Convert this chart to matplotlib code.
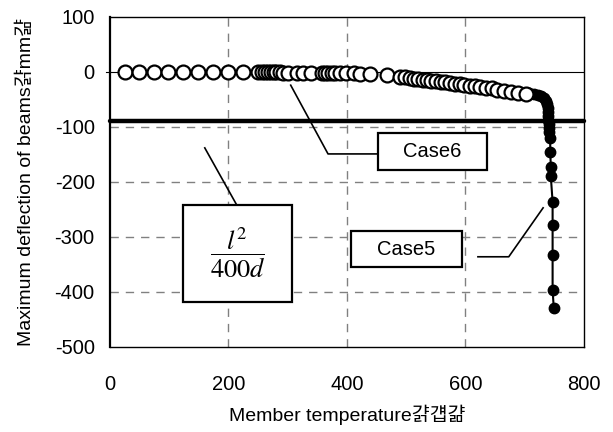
"""Maximum deflection of beams vs member temperature (Case5 / Case6)."""

import matplotlib

matplotlib.use("Agg")
import matplotlib.pyplot as plt

plt.rcParams["font.family"] = ["Liberation Sans", "Noto Sans CJK KR", "DejaVu Sans"]
plt.rcParams["mathtext.fontset"] = "stix"
plt.rcParams["axes.unicode_minus"] = False

# garbled full-width brackets / degree sign, as they appear in the original
LP = b"\x81\x69".decode("cp949")
RP = b"\x81\x6a".decode("cp949")
DEG = b"\x81\x8e".decode("cp949")

# Case6 (open circles)
case6_temp = [25, 49, 74, 98, 123, 149, 174, 199, 224, 250, 256, 262, 267, 271, 276,
              281, 287, 292, 301, 315, 326, 340, 357, 363, 368, 374, 380, 388, 399,
              411, 422, 439, 467, 490, 498, 506, 513, 520, 528, 535, 542, 550, 558,
              566, 574, 582, 590, 598, 607, 616, 625, 634, 644, 654, 665, 677, 689, 702]
case6_defl = [0, 0, 0, 0, 0, 0, 0, 0, 0, 0, 0, 0, 0, 0, 0,
              0, 0, -1, -1, -1, -1, -1, -1, -1, -1, -2, -2, -2, -2,
              -2, -3, -3, -6, -9, -10, -11, -12, -13, -14, -15, -16, -17, -18,
              -19, -20, -21, -22, -23, -25, -26, -27, -29, -30, -32, -34, -36, -38, -40]

# Case5 (filled circles)
case5_temp = [700, 708, 715, 722, 728, 733, 736, 738, 739, 740, 740, 740, 741, 741,
              741, 743, 743, 744, 744, 747, 747, 747, 747, 749]
case5_defl = [-38, -39, -40, -42, -44, -47, -52, -58, -65, -72, -80, -88, -95, -102,
              -109, -120, -145, -172, -190, -236, -279, -333, -396, -430]

limit_defl = -89  # l^2 / 400d

x_ticks = [0, 200, 400, 600, 800]
y_ticks = [100, 0, -100, -200, -300, -400, -500]

fig = plt.figure(figsize=(6.13, 4.32), dpi=100)
ax = fig.add_axes([0.1794, 0.1968, 0.7733, 0.7639])

ax.set_xlim(0, 800)
ax.set_ylim(-500, 100)
ax.set_xticks(x_ticks)
ax.set_yticks(y_ticks)
ax.tick_params(length=0, labelsize=14.5)
ax.tick_params(axis="x", pad=20)
ax.tick_params(axis="y", pad=11)

for v in [200, 400, 600]:
    ax.axvline(v, color="#808080", lw=1, ls=(0, (6, 5)), zorder=1)
for v in [-100, -200, -300, -400]:
    ax.axhline(v, color="#808080", lw=1, ls=(0, (6, 5)), zorder=1)
ax.axhline(0, color="black", lw=0.8, zorder=1)
ax.plot([-6, 0], [0, 0], color="black", lw=0.8, clip_on=False, zorder=1)

for side in ["top", "right", "bottom"]:
    ax.spines[side].set_linewidth(1)
ax.spines["left"].set_linewidth(1.6)

ax.axhline(limit_defl, color="black", lw=3.2, solid_capstyle="round", clip_on=False, zorder=2)

ax.plot(case5_temp, case5_defl, color="black", lw=1.5, marker="o", ms=7.5,
        mfc="black", mec="black", zorder=3)
ax.plot(case6_temp, case6_defl, ls="none", marker="o", ms=10, mfc="white",
        mec="black", mew=1.6, zorder=4)

# callouts
ax.plot([305, 368, 452], [-24, -149, -149], color="black", lw=1.2, zorder=5)
ax.add_patch(plt.Rectangle((452, -178), 184, 67, fc="white", ec="black", lw=1.6, zorder=5))
ax.text(544, -144, "Case6", ha="center", va="center", fontsize=14.5, zorder=6)

ax.plot([160, 214], [-138, -242], color="black", lw=1.2, zorder=5)
ax.add_patch(plt.Rectangle((123, -418), 184, 176, fc="white", ec="black", lw=1.6, zorder=5))
ax.text(215, -330, r"$\dfrac{l^2}{400d}$", ha="center", va="center", fontsize=19, zorder=6)

ax.plot([621, 673, 731], [-336, -336, -247], color="black", lw=1.2, zorder=5)
ax.add_patch(plt.Rectangle((407, -355), 187, 66, fc="white", ec="black", lw=1.6, zorder=5))
ax.text(500, -322, "Case5", ha="center", va="center", fontsize=14.5, zorder=6)

ax.set_xlabel("Member temperature" + LP + DEG + RP, fontsize=14, labelpad=8)
ax.set_ylabel("Maximum deflection of beams" + LP + "mm" + RP, fontsize=14, labelpad=14)

fig.savefig("out.png", dpi=100)
plt.close(fig)
